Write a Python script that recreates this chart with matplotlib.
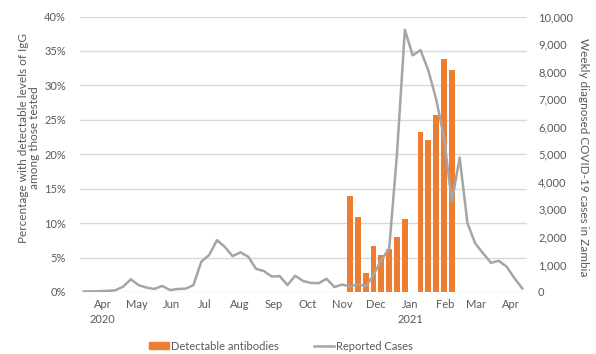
import matplotlib
matplotlib.use("Agg")
import matplotlib.pyplot as plt
import matplotlib.dates as mdates
from matplotlib.patches import Patch
from matplotlib.lines import Line2D
from matplotlib.ticker import FuncFormatter, FixedLocator
import pandas as pd

plt.rcParams['font.family'] = ['Lato', 'DejaVu Sans']

# Weekly reported cases (right axis), weeks starting 2020-03-15
weeks = pd.date_range("2020-03-15", periods=57, freq="7D")
cases = [20, 20, 30, 40, 60, 190, 460, 250, 160, 110,
         220, 70, 110, 120, 250, 1100, 1340, 1880, 1640, 1300,
         1440, 1280, 840, 760, 560, 580, 250, 590, 400, 330,
         320, 480, 180, 270, 200, 290, 200, 620, 1160, 1580,
         5030, 9520, 8590, 8780, 8040, 7000, 5600, 3270, 4880, 2490,
         1760, 1400, 1060, 1130, 920, 500, 130]

# Detectable antibodies (left axis, %), by week index
bar_weeks = [34, 35, 36, 37, 38, 39, 40, 41, 43, 44, 45, 46, 47]
antibodies = [13.9, 10.9, 2.8, 6.7, 5.3, 6.3, 8.0, 10.6, 23.2, 22.1, 25.7, 33.8, 32.3]

month_ticks = pd.date_range("2020-04-01", periods=13, freq="MS")
month_labels = ["Apr\n2020", "May", "Jun", "Jul", "Aug", "Sep", "Oct", "Nov", "Dec",
                "Jan\n2021", "Feb", "Mar", "Apr"]

left_ticks = [0, 5, 10, 15, 20, 25, 30, 35, 40]
right_ticks = [0, 1000, 2000, 3000, 4000, 5000, 6000, 7000, 8000, 9000, 10000]

ORANGE = "#ED7D31"
GRAY = "#A5A5A5"
TXT = "#595959"
GRID = "#D9D9D9"

fig = plt.figure(figsize=(5.96, 3.54), dpi=100)
ax = fig.add_axes([80/596, 1-292/354, (527-80)/596, (292-16.5)/354])
ax2 = ax.twinx()

bar_dates = [weeks[i] for i in bar_weeks]
ax.bar(bar_dates, antibodies, width=5.2, color=ORANGE, zorder=2)
ax2.plot(weeks, cases, color=GRAY, lw=1.8, zorder=3)

x0 = mdates.date2num(weeks[0]) - 0.49*7
x1 = mdates.date2num(weeks[0]) + 56.6*7
ax.set_xlim(x0, x1)
ax.set_ylim(0, 40)
ax2.set_ylim(0, 10000)

ax.yaxis.set_major_locator(FixedLocator(left_ticks))
ax.yaxis.set_major_formatter(FuncFormatter(lambda v, p: f"{int(v)}%"))
ax2.yaxis.set_major_locator(FixedLocator(right_ticks))
ax2.yaxis.set_major_formatter(FuncFormatter(lambda v, p: f"{int(v):,}"))

ax.set_xticks(mdates.date2num(month_ticks))
ax.set_xticklabels(month_labels)

ax.grid(axis='y', color=GRID, lw=1, zorder=0)
ax.set_axisbelow(True)
for a in (ax, ax2):
    for s in a.spines.values():
        s.set_visible(False)
    a.tick_params(length=0, colors=TXT, labelsize=8)
ax.tick_params(axis='y', pad=10)
ax2.tick_params(axis='y', pad=8)
ax.tick_params(axis='x', pad=5)
for lbl in ax.get_xticklabels():
    lbl.set_linespacing(1.4)

fig.text(29/596, 1-138/354, "Percentage with detectable levels of IgG\namong those tested",
         rotation=90, ha='center', va='center', fontsize=8.5, color=TXT, linespacing=1.1)
fig.text(583/596, 1-157/354, "Weekly diagnosed COVID-19 cases in Zambia",
         rotation=-90, ha='center', va='center', fontsize=8.5, color=TXT)

handles = [Patch(color=ORANGE), Line2D([], [], color=GRAY, lw=1.8)]
fig.legend(handles, ["Detectable antibodies", "Reported Cases"], loc='center',
           bbox_to_anchor=(281/596, 1-346/354), ncol=2, frameon=False,
           fontsize=8, labelcolor=TXT, handlelength=1.8, handletextpad=0.2,
           columnspacing=3.2, handleheight=0.5)

fig.savefig("out.png", dpi=100)
